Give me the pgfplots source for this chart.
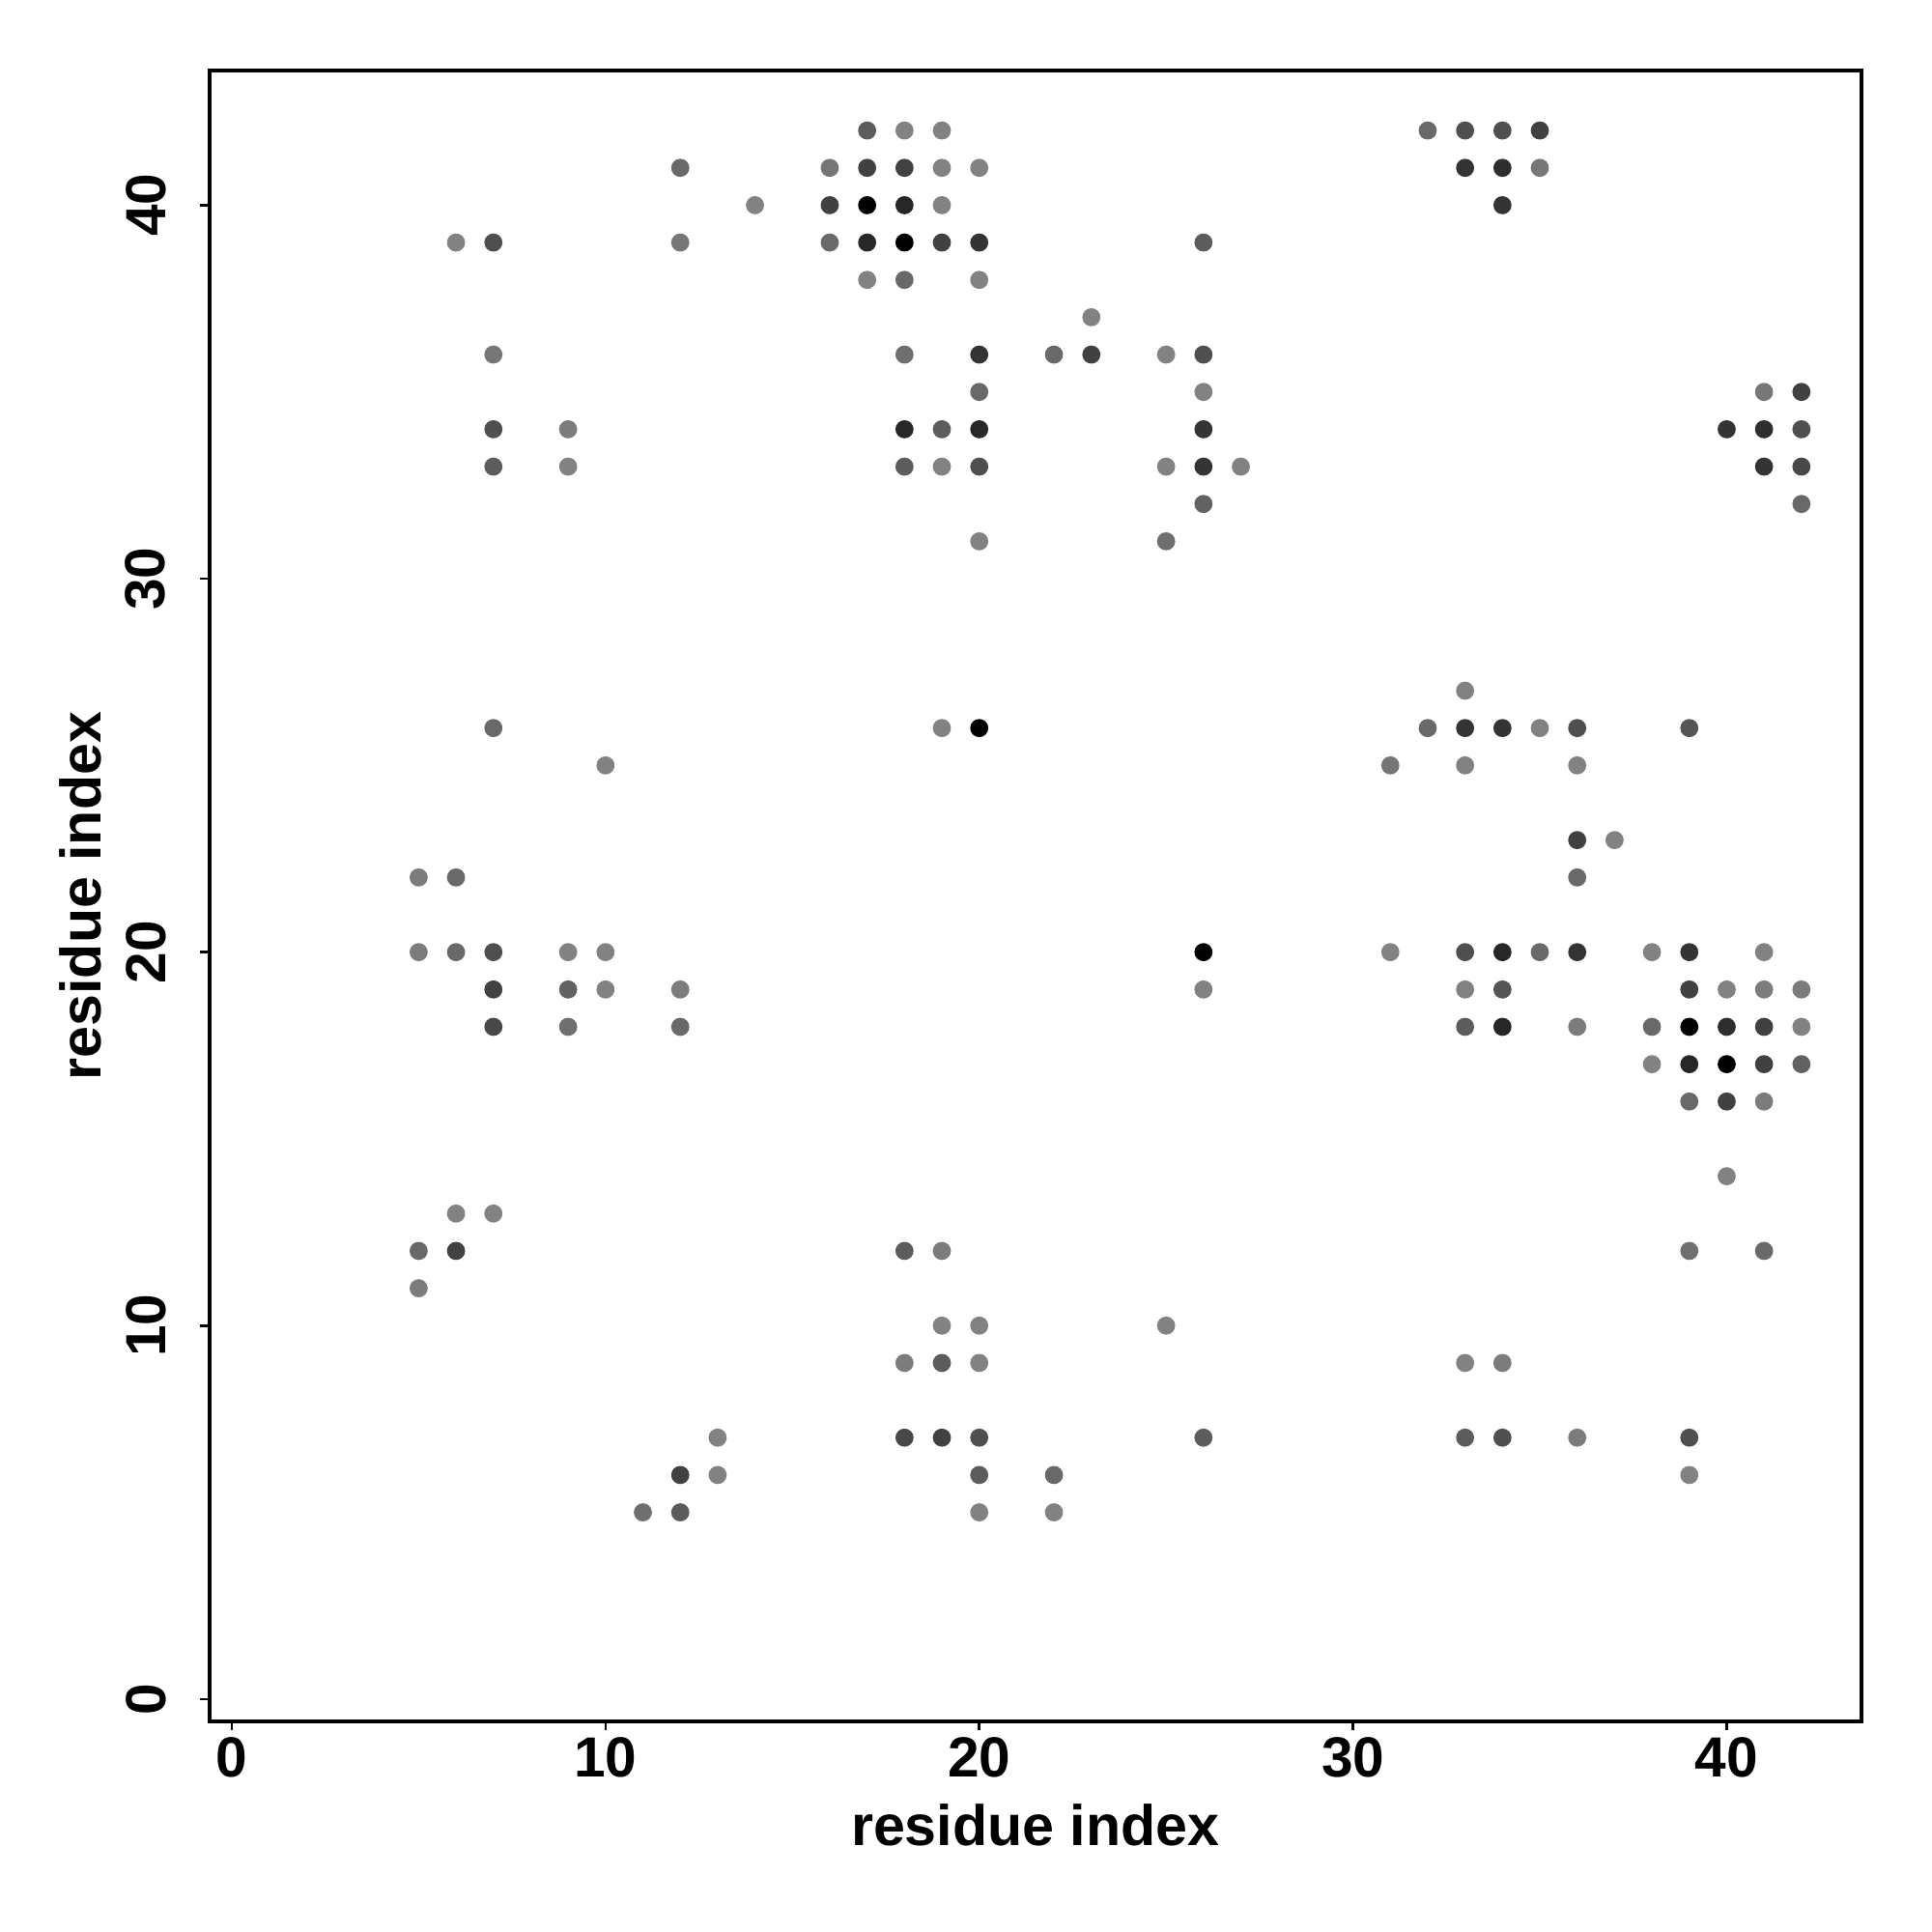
\documentclass[border=0pt]{standalone}
\usepackage{fontspec}
\setmainfont{Liberation Sans}
\usepackage{pgfplots}
\usepackage{pgfplotstable}
\pgfplotsset{compat=1.18}
\pgfplotstableread{
x y c
17 42 7
18 42 10
19 42 10
32 42 8
33 42 6
34 42 6
35 42 5
12 41 8
16 41 9
17 41 5
18 41 5
19 41 10
20 41 10
33 41 4
34 41 3.5
35 41 9
14 40 10
16 40 5
17 40 0
18 40 3
19 40 10
34 40 4
6 39 10
7 39 6
12 39 9
16 39 8
17 39 3
18 39 0
19 39 5
20 39 4
26 39 7
17 38 10
18 38 8
20 38 10
23 37 10
7 36 9
18 36 8.5
20 36 4
22 36 8
23 36 5
25 36 10
26 36 6
20 35 8
26 35 10
41 35 9
42 35 5
7 34 6
9 34 9.5
18 34 3
19 34 7
20 34 3
26 34 4
40 34 4
41 34 3.5
42 34 6
7 33 7
9 33 10
18 33 7
19 33 10
20 33 6
25 33 10
26 33 4
27 33 10
41 33 4
42 33 5.5
26 32 7.5
42 32 8
20 31 10
25 31 8.5
33 27 10
7 26 8
19 26 10
20 26 0
32 26 8
33 26 4
34 26 4
35 26 10
36 26 6
39 26 6.5
10 25 10
31 25 9
33 25 10
36 25 10
36 23 5
37 23 10
5 22 9.5
6 22 8
36 22 8
5 20 9.5
6 20 8
7 20 6
9 20 10
10 20 10
26 20 0
31 20 10
33 20 6
34 20 3
35 20 8
36 20 4
38 20 10
39 20 4
41 20 10
7 19 5
9 19 7.5
10 19 10
12 19 9.5
26 19 10
33 19 10
34 19 6.5
39 19 5
40 19 10
41 19 9.5
42 19 9.5
7 18 5.5
9 18 8.5
12 18 8
33 18 7
34 18 3
36 18 9.5
38 18 8
39 18 0
40 18 3.5
41 18 5
42 18 10
38 17 10
39 17 3
40 17 0
41 17 5
42 17 7.5
39 16 8
40 16 5
41 16 9.5
40 14 10
6 13 10
7 13 10
5 12 8
6 12 5
18 12 7
19 12 9.5
39 12 8.5
41 12 8
5 11 9.5
19 10 10
20 10 10
25 10 10
18 9 9.5
19 9 7
20 9 10
33 9 10
34 9 9.5
13 7 10
18 7 5.5
19 7 5
20 7 6
26 7 7
33 7 7
34 7 6
36 7 9.5
39 7 6
12 6 5
13 6 10
20 6 7
22 6 8
39 6 10
11 5 8.5
12 5 7
20 5 10
22 5 10
}\contacts
\begin{document}
\begin{tikzpicture}
\begin{axis}[
  name=ax,
  scale only axis,
  width=291.9pt, height=291.7pt,
  xmin=-0.6, xmax=43.6, ymin=-0.6, ymax=43.6,
  xtick={0,10,20,30,40}, ytick={0,10,20,30,40},
  xtick pos=bottom, ytick pos=left,
  tick align=outside,
  major tick length=1.6pt,
  tick style={black, line width=0.45pt},
  axis line style={black, line width=0.75pt},
  /pgf/number format/assume math mode=true,
  ticklabel style={font=\fontsize{10}{12}\selectfont\bfseries},
  xticklabel style={anchor=north, inner sep=0pt},
  xticklabel shift=1.0pt,
  yticklabel style={rotate=90, anchor=south, inner sep=0pt},
  yticklabel shift=5.9pt,
  label style={font=\fontsize{10.1}{12}\selectfont\bfseries},
  xlabel={residue index},
  ylabel={residue index},
  xlabel style={at={(axis description cs:0.5,-0.0749)}, anchor=base},
  ylabel style={at={(axis description cs:-0.0655,0.5)}, anchor=base},
  colormap={bw}{gray(0cm)=(0); gray(1cm)=(0.51)},
]
\addplot[scatter, only marks, mark=*, mark size=1.45pt,
  point meta=explicit, point meta min=0, point meta max=10,
  mark options={line width=0.3pt},
  scatter/use mapped color={draw=mapped color, fill=mapped color}]
  table[x=x, y=y, meta=c] {\contacts};
\end{axis}
\path (ax.south west) ++(-37.0pt,-37.2pt);
\path (ax.north east) ++(12.5pt,12.5pt);
\end{tikzpicture}
\end{document}
